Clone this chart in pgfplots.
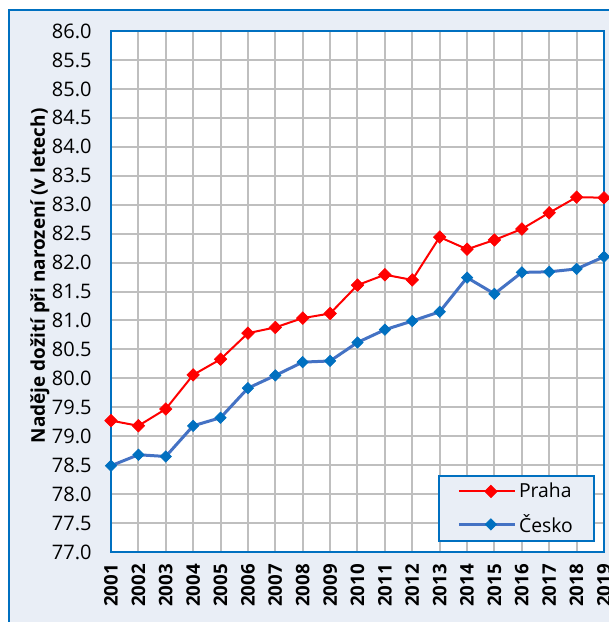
\documentclass[border=0pt]{standalone}
\usepackage{fontspec}
\setmainfont{Open Sans}
\usepackage{pgfplots}
\pgfplotsset{compat=1.18}
\definecolor{bgcol}{HTML}{E9EEF6}
\definecolor{frame}{HTML}{0070C0}
\definecolor{gridcol}{HTML}{BFBFBF}
\definecolor{cz}{HTML}{4472C4}

\pgfplotstableread{
year praha cesko
2001 79.27 78.49
2002 79.18 78.68
2003 79.47 78.65
2004 80.06 79.18
2005 80.33 79.32
2006 80.78 79.83
2007 80.88 80.05
2008 81.04 80.28
2009 81.12 80.30
2010 81.61 80.62
2011 81.79 80.84
2012 81.70 80.99
2013 82.44 81.15
2014 82.23 81.74
2015 82.39 81.46
2016 82.58 81.83
2017 82.86 81.84
2018 83.13 81.89
2019 83.12 82.10
}\lifedata

\begin{document}
\begin{tikzpicture}
\path[use as bounding box] (-83.25pt,-52.5pt) rectangle (373.5pt,414pt);
\begin{scope}
\clip (-83.25pt,-52.5pt) rectangle (373.5pt,414pt);
\fill[white] (-83.25pt,-52.5pt) rectangle (373.5pt,414pt);
\draw[frame, line width=1.5pt, fill=bgcol] (-76.5pt,-90pt) rectangle (420pt,406.5pt);
\begin{axis}[
    at={(0pt,0pt)}, anchor=south west,
    scale only axis,
    width=369.75pt, height=390.75pt,
    xmin=2001, xmax=2019,
    ymin=77, ymax=86,
    xtick={2001,...,2019},
    ytick={77,77.5,...,86},
    grid=major,
    grid style={gridcol, line width=1.5pt},
    axis line style={frame, line width=1.5pt},
    axis background/.style={fill=white},
    major tick length=0pt,
    /pgf/number format/assume math mode=true,
    x tick label style={/pgf/number format/1000 sep={}, rotate=90, anchor=east,
        font=\fontsize{14}{17}\selectfont\bfseries},
    xticklabel shift=5.5pt,
    y tick label style={/pgf/number format/fixed, /pgf/number format/fixed zerofill,
        /pgf/number format/precision=1, font=\fontsize{15}{18}\selectfont},
    yticklabel shift=11pt,
    ylabel={Naděje dožití při narození (v letech)},
    ylabel style={at={(axis description cs:-0.144,0.53)}, anchor=center,
        font=\fontsize{14.2}{17}\selectfont\bfseries},
    legend style={at={(axis description cs:0.982,0.019)}, anchor=south east,
        draw=frame, line width=1.5pt, fill=bgcol,
        font=\fontsize{14.5}{17}\selectfont,
        inner xsep=14pt, inner ysep=3pt, row sep=7pt},
    legend cell align=left,
    legend image code/.code={\path (0pt,0pt) -- (6pt,0pt);
        \draw[mark repeat=2, mark phase=2]
        plot coordinates {(6pt,0pt) (24pt,0pt) (42pt,0pt)};},
]
\addplot[red, line width=1.5pt, mark=square*, mark size=3.3pt,
    mark options={rotate=45, solid, fill=red, draw=red, line width=0.5pt}]
    table[x=year, y=praha] {\lifedata};
\addlegendentry{Praha}
\addplot[cz, line width=2.25pt, mark=square*, mark size=3pt,
    mark options={rotate=45, solid, fill=frame, draw=frame, line width=0.5pt}]
    table[x=year, y=cesko] {\lifedata};
\addlegendentry{Česko}
\end{axis}
\end{scope}
\end{tikzpicture}
\end{document}
